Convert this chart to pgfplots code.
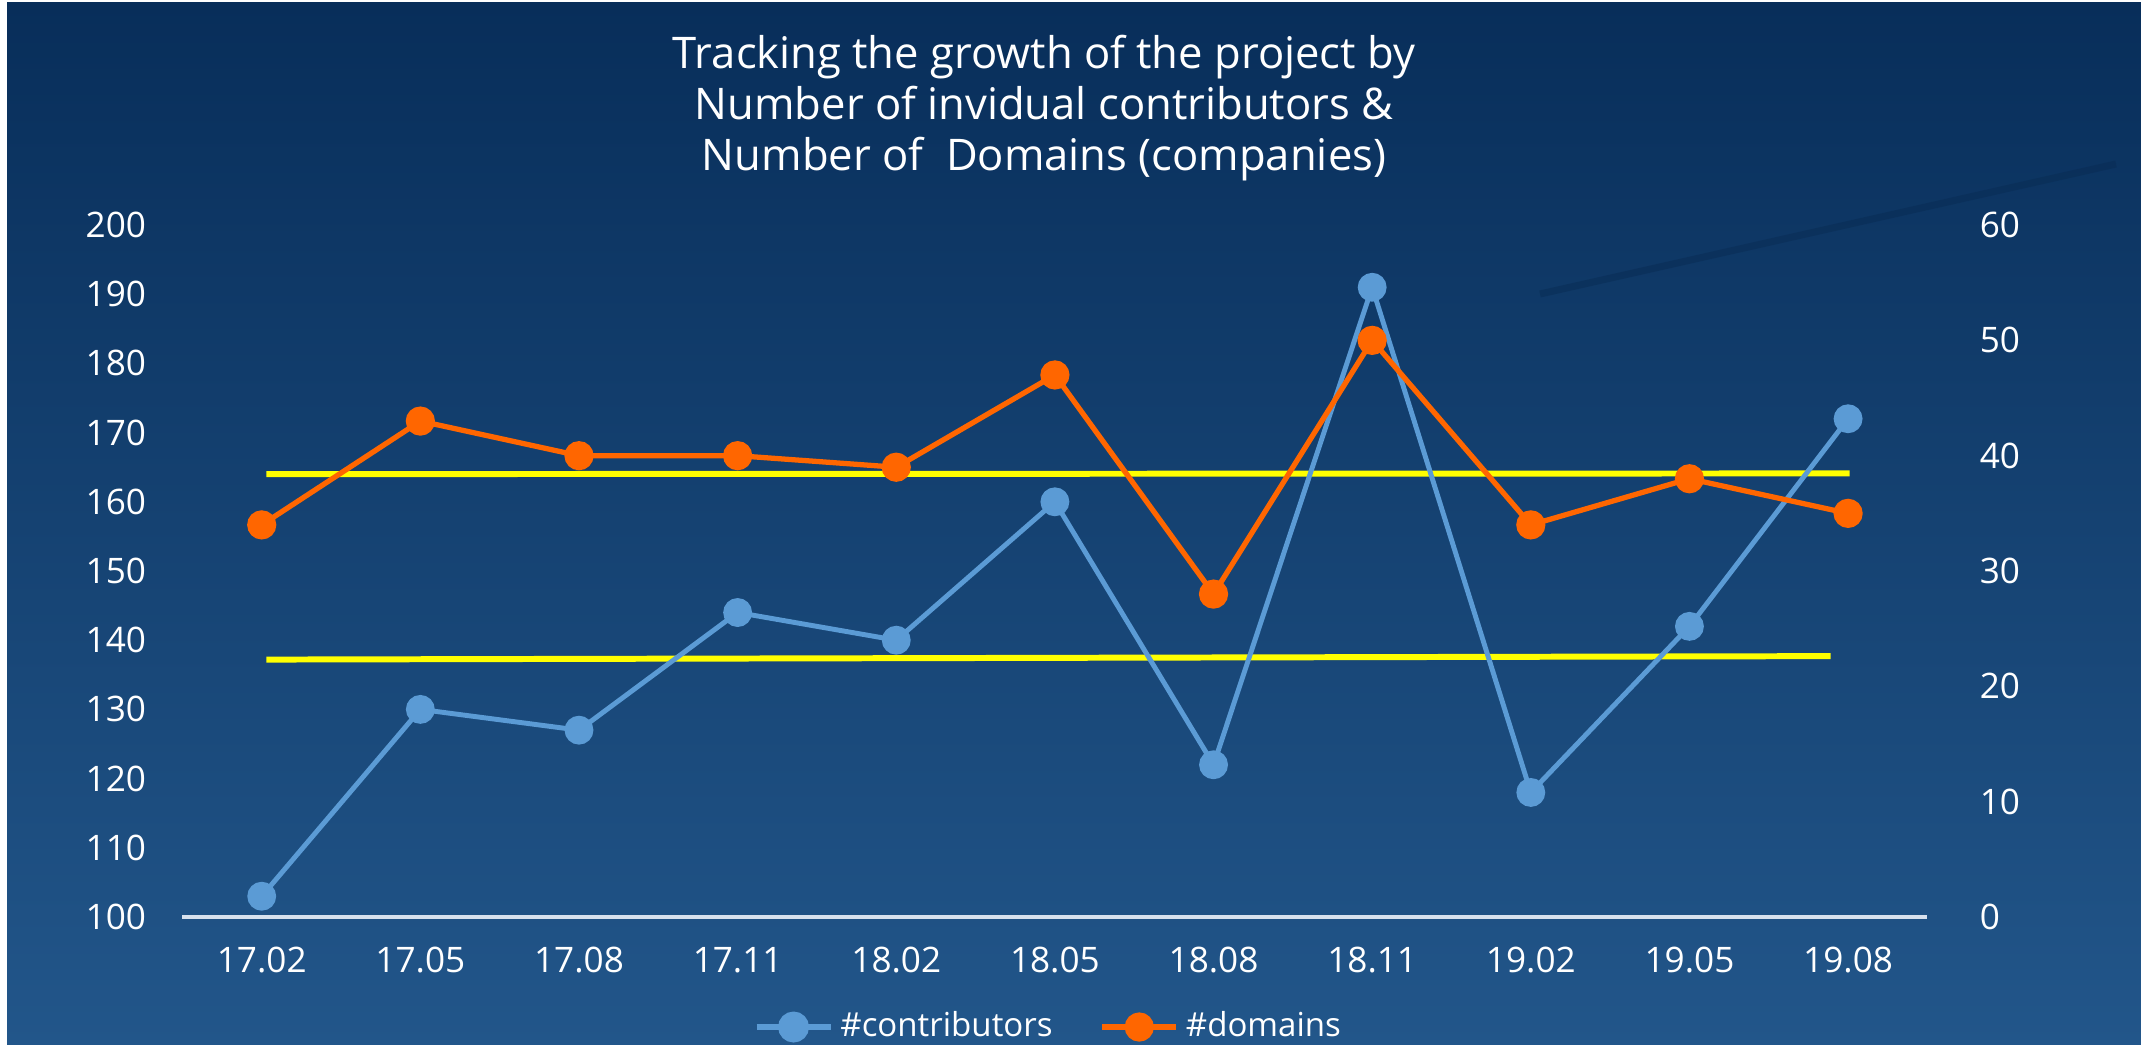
\documentclass[border=0pt]{standalone}
\usepackage{fontspec}
\setmainfont{Open Sans}
\usepackage{pgfplots}
\pgfplotsset{compat=1.18}
\definecolor{cblue}{RGB}{91,155,213}
\definecolor{corange}{RGB}{255,102,0}
\definecolor{cyellow}{RGB}{255,255,0}
\definecolor{bgtop}{RGB}{8,46,90}
\definecolor{bgbot}{RGB}{34,86,138}
\definecolor{xline}{RGB}{215,225,238}
\begin{document}
\begin{tikzpicture}
\path[use as bounding box] (0,0) rectangle (21.41cm,10.44cm);
\fill[white] (0,0) rectangle (21.41cm,10.44cm);
\shade[top color=bgtop, bottom color=bgbot] (0.07cm,0) rectangle (21.41cm,10.41cm);
\draw[color={rgb,255:red,8;green,42;blue,82}, line width=2pt, opacity=0.45] (15.4cm,7.5cm) -- (21.16cm,8.80cm);
\node[text=white, align=center, font=\fontsize{12.4}{14.6}\selectfont] at (10.44cm,9.36cm)
 {Tracking the growth of the project by\\Number of invidual contributors \&\\Number of\ \ Domains (companies)};

\begin{axis}[
 at={(1.824cm,1.27cm)}, anchor=south west,
 scale only axis, width=17.45cm, height=6.92cm,
 xmin=-0.5, xmax=10.5, ymin=100, ymax=200,
 ytick={100,110,...,200},
 xtick={0,...,10},
 xticklabels={17.02,17.05,17.08,17.11,18.02,18.05,18.08,18.11,19.02,19.05,19.08},
 axis x line*=bottom, axis y line*=left,
 x axis line style={-, draw=xline, line width=0.9pt},
 y axis line style={draw=none},
 major tick length=0,
 tick label style={font=\fontsize{10}{12}\selectfont, text=white},
 /pgf/number format/assume math mode=true,
 yticklabel shift=2.4mm, xticklabel shift=1.8mm,
 clip=false,
]
\addplot[cyellow, line width=1.7pt] coordinates {(0.03,164.0) (10.01,164.1)};
\addplot[cyellow, line width=1.7pt] coordinates {(0.03,137.2) (9.89,137.7)};
\addplot[cblue, line width=1.4pt, mark=*, mark size=3.4pt, mark options={solid, fill=cblue, draw=cblue}] coordinates {
(0,103) (1,130) (2,127) (3,144) (4,140) (5,160) (6,122) (7,191) (8,118) (9,142) (10,172)};
\end{axis}

\begin{axis}[
 at={(1.824cm,1.27cm)}, anchor=south west,
 scale only axis, width=17.45cm, height=6.92cm,
 xmin=-0.5, xmax=10.5, ymin=0, ymax=60,
 ytick={0,10,...,60},
 axis x line=none, axis y line*=right,
 y axis line style={draw=none},
 major tick length=0,
 tick label style={font=\fontsize{10}{12}\selectfont, text=white},
 /pgf/number format/assume math mode=true,
 yticklabel shift=4.0mm,
 clip=false,
 legend columns=2,
 legend style={at={(0.4977,-0.159)}, anchor=center, draw=none, fill=none, text=white,
   font=\fontsize{9.4}{11}\selectfont, /tikz/every even column/.append style={column sep=4mm}},
 legend image code/.code={\draw[mark repeat=2,mark phase=2,#1] plot coordinates {(0cm,0cm) (3.7mm,0cm) (7.4mm,0cm)};},
]
\addlegendimage{cblue, line width=1.6pt, mark=*, mark size=3.6pt, mark options={solid, fill=cblue, draw=cblue}}
\addlegendentry{\#contributors}
\addplot[corange, line width=1.5pt, mark=*, mark size=3.4pt, mark options={solid, fill=corange, draw=corange}] coordinates {
(0,34) (1,43) (2,40) (3,40) (4,39) (5,47) (6,28) (7,50) (8,34) (9,38) (10,35)};
\addlegendentry{\#domains}
\end{axis}
\end{tikzpicture}
\end{document}
